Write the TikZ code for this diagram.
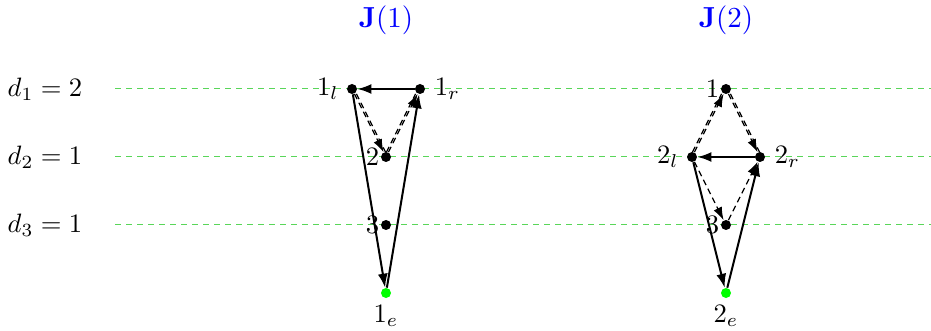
\documentclass[tikz,border=0pt]{standalone}
\usetikzlibrary{arrows.meta}
\begin{document}
\begin{tikzpicture}[x=0.5pt,y=-0.5pt,
  dot/.style={circle, fill=black, inner sep=0pt, minimum size=5pt},
  edot/.style={circle, fill=green, inner sep=0pt, minimum size=5pt},
  every label/.style={scale=1.33},
  txt/.style={scale=1.33},
  level/.style={green!75!black!65, line width=0.5pt, dash pattern=on 3pt off 2.5pt},
  solidarr/.style={line width=1pt, -{Latex[length=7pt,width=5pt]}},
  dasharr/.style={line width=0.6pt, dash pattern=on 3pt off 2pt, -{Latex[length=6.5pt,width=4.5pt]}},
  dashline/.style={line width=0.6pt, dash pattern=on 3pt off 2pt},
  ttl/.style={text=blue, scale=1.45}
]
\useasboundingbox (0,0) rectangle (931,331);
% level labels
\node[txt] (d1) at (45,89) {$d_1 = 2$};
\node[txt] (d2) at (45,157) {$d_2 = 1$};
\node[txt] (d3) at (45,225) {$d_3 = 1$};
\coordinate (l1s) at (115,89); \coordinate (l1e) at (931,89);
\coordinate (l2s) at (115,157); \coordinate (l2e) at (931,157);
\coordinate (l3s) at (115,225); \coordinate (l3e) at (931,225);
\draw[level] (l1s) -- (l1e);
\draw[level] (l2s) -- (l2e);
\draw[level] (l3s) -- (l3e);

% J(1)
\node[ttl] (t1) at (386,20) {$\mathbf{J}(1)$};
\node[dot, label={[label distance=-0.5pt]left:$1_l$}] (a1l) at (352,89) {};
\node[dot, label={[label distance=0pt]right:$1_r$}] (a1r) at (420,89) {};
\node[dot, label={[label distance=-3pt]left:$2$}] (a2) at (386,157) {};
\node[dot, label={[label distance=-3pt]left:$3$}] (a3) at (386,225) {};
\node[edot, label={[label distance=-1pt]below:$1_e$}] (a1e) at (386,293) {};
\draw[solidarr] (a1r) -- (a1l);
\draw[solidarr] (a1l) -- (a1e);
\draw[solidarr] (a1e) -- (a1r);
\draw[dasharr] (a1l) -- (a2);
\draw[dashline, transform canvas={xshift=1pt}] (a1l) -- (a2);
\draw[dasharr] (a2) -- (a1r);
\draw[dashline, transform canvas={xshift=-1pt}] (a2) -- (a1r);

% J(2)
\node[ttl] (t2) at (726,20) {$\mathbf{J}(2)$};
\node[dot, label={[label distance=-3pt]left:$1$}] (b1) at (726,89) {};
\node[dot, label={[label distance=-0.5pt]left:$2_l$}] (b2l) at (692,157) {};
\node[dot, label={[label distance=0pt]right:$2_r$}] (b2r) at (760,157) {};
\node[dot, label={[label distance=-3pt]left:$3$}] (b3) at (726,225) {};
\node[edot, label={[label distance=-1pt]below:$2_e$}] (b2e) at (726,293) {};
\draw[solidarr] (b2r) -- (b2l);
\draw[solidarr] (b2l) -- (b2e);
\draw[solidarr] (b2e) -- (b2r);
\draw[dasharr] (b2l) -- (b1);
\draw[dashline, transform canvas={xshift=-1pt}] (b2l) -- (b1);
\draw[dasharr] (b1) -- (b2r);
\draw[dashline, transform canvas={xshift=1pt}] (b1) -- (b2r);
\draw[dasharr] (b2l) -- (b3);
\draw[dasharr] (b3) -- (b2r);
\end{tikzpicture}
\end{document}
